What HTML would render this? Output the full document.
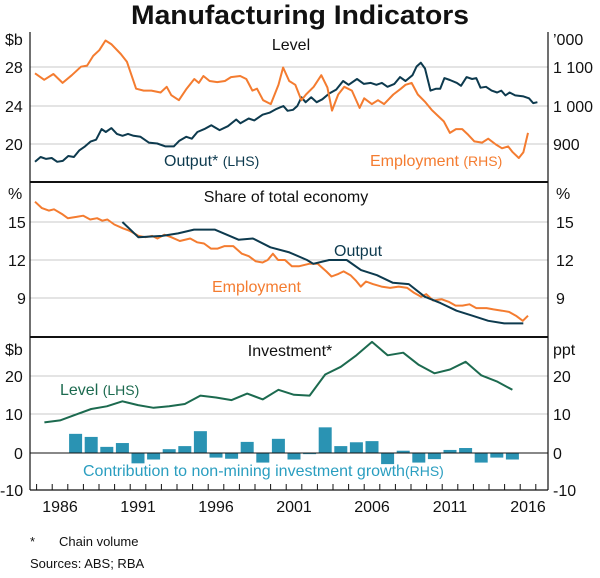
<!DOCTYPE html>
<html><head><meta charset="utf-8"><style>
body{margin:0;background:#fff;width:600px;height:573px;overflow:hidden}
svg{font-family:"Liberation Sans",Arial,sans-serif}
</style></head><body>
<svg id="s" width="600" height="573" viewBox="0 0 600 573" xmlns="http://www.w3.org/2000/svg">
<text x="300" y="24" text-anchor="middle" font-size="27" font-weight="bold" fill="#111" textLength="338" lengthAdjust="spacingAndGlyphs">Manufacturing Indicators</text>
<g stroke="#c8c8c8" stroke-width="1">
<line x1="30" x2="548" y1="67" y2="67"/><line x1="30" x2="548" y1="106" y2="106"/><line x1="30" x2="548" y1="144" y2="144"/>
<line x1="30" x2="548" y1="222" y2="222"/><line x1="30" x2="548" y1="260" y2="260"/><line x1="30" x2="548" y1="298" y2="298"/>
<line x1="30" x2="548" y1="376" y2="376"/><line x1="30" x2="548" y1="414" y2="414"/>
</g>
<g id="d"></g>
<g stroke="#111" fill="none">
<line x1="30" x2="30" y1="32" y2="490" stroke-width="1.2"/>
<line x1="548" x2="548" y1="32" y2="490" stroke-width="1.2"/>
<line x1="30" x2="548" y1="182" y2="182" stroke-width="2"/>
<line x1="30" x2="548" y1="337" y2="337" stroke-width="2"/>
<line x1="30" x2="548" y1="453" y2="453" stroke-width="1"/>
<line x1="30" x2="548" y1="490" y2="490" stroke-width="1.2"/>
</g>
<g font-size="16" fill="#111">
<text x="5" y="45">$b</text><text x="5" y="73">28</text><text x="5" y="112">24</text><text x="5" y="150">20</text>
<text x="553" y="45">’000</text><text x="553" y="73">1 100</text><text x="553" y="112">1 000</text><text x="553" y="150">900</text>
<text x="8" y="199">%</text><text x="8" y="228">15</text><text x="8" y="266">12</text><text x="17" y="304">9</text>
<text x="556" y="199">%</text><text x="556" y="228">15</text><text x="556" y="266">12</text><text x="556" y="304">9</text>
<text x="5" y="355">$b</text><text x="5" y="382">20</text><text x="5" y="420">10</text><text x="14" y="459">0</text><text x="0" y="496">-10</text>
<text x="553" y="355">ppt</text><text x="553" y="382">20</text><text x="553" y="420">10</text><text x="553" y="459">0</text><text x="553" y="496">-10</text>
<text x="291" y="50" text-anchor="middle">Level</text>
<text x="286" y="202" text-anchor="middle">Share of total economy</text>
<text x="290" y="356" text-anchor="middle">Investment*</text>
</g>
<g font-size="16">
<text x="164" y="166" fill="#0d3a4e">Output* <tspan font-size="14">(LHS)</tspan></text>
<text x="370" y="166" fill="#f47c30">Employment <tspan font-size="14">(RHS)</tspan></text>
<text x="334" y="256" fill="#0d3a4e">Output</text>
<text x="212" y="292" fill="#f47c30">Employment</text>
<text x="60" y="395" fill="#1c6a4f">Level <tspan font-size="14">(LHS)</tspan></text>
<text x="83" y="476" fill="#2a9ec0">Contribution to non-mining investment growth<tspan font-size="14">(RHS)</tspan></text>
</g>
<g font-size="16" fill="#111" text-anchor="middle">
<text x="60" y="512">1986</text><text x="138" y="512">1991</text><text x="216" y="512">1996</text><text x="294" y="512">2001</text><text x="372" y="512">2006</text><text x="450" y="512">2011</text><text x="528" y="512">2016</text>
</g>
<g font-size="13" fill="#111"><text x="30" y="546">*</text><text x="59" y="546">Chain volume</text><text x="30" y="568">Sources:  ABS; RBA</text></g>
</svg>
<script>
var X=function(y){return 60+(y-1986)*15.6;};
var g=document.getElementById('d'),h='';
function path(pts,fy,c,w){var s='';pts.forEach(function(p,i){s+=(i?'L':'M')+X(p[0]).toFixed(1)+','+fy(p[1]).toFixed(1);});h+='<path d="'+s+'" fill="none" stroke="'+c+'" stroke-width="'+(w||2)+'" stroke-linejoin="round"/>';}
var tL=function(v){return 106-(v-24)*9.625},tR=function(v){return 106-(v-1000)*0.385};
var mY=function(v){return 260-(v-12)*12.67},bY=function(v){return 453-v*3.83};
var bars=[5,4.2,1.6,2.6,-2.7,-1.7,1,1.8,5.7,-1.2,-1.5,2.9,-2.5,3.7,-1.7,-0.3,6.7,1.8,2.8,3.1,-2.9,0.6,-2.5,-1.6,0.8,1.3,-2.5,-1.2,-1.7];
bars.forEach(function(v,i){var x=X(1987+i)-6.5,y=v>0?bY(v):453;h+='<rect x="'+x+'" y="'+y+'" width="13" height="'+Math.abs(v*3.83)+'" fill="#2a93b3"/>';});
for(var k=1985;k<=2017;k++){var tx=X(k)-7.8;h+='<line x1="'+tx+'" x2="'+tx+'" y1="490" y2="484" stroke="#111"/>';}
path([[1984.4,18.2],[1984.8,18.7],[1985.2,18.5],[1985.6,18.6],[1986,18.2],[1986.4,18.3],[1986.8,18.8],[1987.2,18.7],[1987.6,19.4],[1988,19.8],[1988.4,20.3],[1988.8,20.5],[1989.2,21.6],[1989.5,21.3],[1989.9,21.7],[1990.3,21.1],[1990.7,20.9],[1991.1,21.1],[1991.5,20.9],[1992,20.8],[1992.6,20.2],[1993.2,20.1],[1993.8,19.8],[1994.4,19.8],[1994.8,20.4],[1995.3,20.8],[1995.7,20.6],[1996.1,21.3],[1996.6,21.6],[1997.1,22],[1997.7,21.5],[1998.3,21.9],[1998.9,22.6],[1999.2,22.2],[1999.8,22.7],[2000.2,22.5],[2000.8,23.1],[2001.3,23.3],[2001.8,23.7],[2002.3,24],[2002.6,23.5],[2003,23.6],[2003.3,24],[2003.6,24.9],[2003.9,24.4],[2004.3,24.9],[2004.7,24.4],[2005.1,24.7],[2005.6,25.3],[2006.1,25.7],[2006.6,26.6],[2007,26.2],[2007.6,26.8],[2008.1,26.3],[2008.6,26.4],[2009,26.2],[2009.4,26.4],[2009.8,26],[2010.3,26.3],[2010.7,27],[2011.1,26.6],[2011.6,27.2],[2011.9,28.1],[2012.2,28.5],[2012.5,27.9],[2012.9,25.6],[2013.3,25.8],[2013.6,25.8],[2013.9,26.9],[2014.3,26.7],[2014.8,26.4],[2015.1,26.1],[2015.5,27],[2015.9,26.8],[2016.2,26.9],[2016.5,25.9],[2016.9,26],[2017.3,25.6],[2017.7,25.4],[2018,25.6],[2018.3,25.1],[2018.6,25.4],[2019,25.1],[2019.6,25],[2020,24.8],[2020.3,24.3],[2020.6,24.4]].map(function(p){return [1984.4+(p[0]-1984.4)*(32.2/36.2),p[1]]}),tL,'#0d3a4e');
path([[1984.4,1085],[1985,1068],[1985.6,1083],[1986.2,1060],[1986.8,1080],[1987.4,1102],[1987.8,1105],[1988.2,1130],[1988.6,1145],[1989,1170],[1989.4,1160],[1990,1135],[1990.4,1115],[1990.7,1080],[1991,1045],[1991.5,1040],[1992,1040],[1992.6,1035],[1993,1050],[1993.3,1028],[1993.8,1015],[1994.3,1045],[1994.8,1070],[1995.1,1060],[1995.4,1078],[1995.8,1065],[1996.3,1062],[1996.8,1065],[1997.2,1075],[1997.8,1078],[1998.2,1070],[1998.6,1040],[1998.9,1045],[1999.3,1015],[1999.8,1005],[2000.3,1055],[2000.6,1100],[2001,1065],[2001.4,1055],[2001.8,1015],[2002.1,1030],[2002.6,1050],[2003.1,1080],[2003.5,1048],[2003.8,988],[2004.2,1030],[2004.6,1050],[2005.1,1040],[2005.6,995],[2005.9,1020],[2006.4,1005],[2006.8,1015],[2007.2,1005],[2007.8,1030],[2008.3,1045],[2008.6,1055],[2009,1060],[2009.4,1030],[2009.9,1010],[2010.3,990],[2010.7,975],[2011.1,960],[2011.5,930],[2011.9,940],[2012.3,940],[2012.7,925],[2013.1,908],[2013.6,905],[2014,915],[2014.5,900],[2014.9,890],[2015.3,895],[2015.6,880],[2016,865],[2016.3,880],[2016.6,930]].map(function(p){return [1984.4+(p[0]-1984.4)*(31.6/32.2),p[1]]}),tR,'#f47c30');
path([[1984.4,16.6],[1984.8,16.1],[1985.2,15.9],[1985.5,16],[1986,15.6],[1986.3,15.3],[1986.8,15.4],[1987.2,15.5],[1987.6,15.2],[1988,15.3],[1988.3,15.1],[1988.6,15.2],[1989,14.8],[1989.5,14.5],[1989.9,14.3],[1990.4,13.9],[1990.8,13.8],[1991.2,13.9],[1991.5,13.7],[1991.9,14],[1992.3,13.8],[1992.8,13.5],[1993.4,13.7],[1993.8,13.4],[1994.2,13.3],[1994.6,12.9],[1995,12.9],[1995.4,13.1],[1995.9,13.1],[1996.4,12.5],[1996.8,12.3],[1997.2,11.9],[1997.6,11.8],[1997.9,12],[1998.2,12.5],[1998.5,12],[1998.9,12],[1999.3,11.5],[1999.7,11.5],[2000.3,11.7],[2000.8,11.7],[2001.3,11.1],[2001.6,10.7],[2002,10.9],[2002.3,11.1],[2002.7,10.8],[2003,10.4],[2003.3,9.9],[2003.6,10.3],[2004,10.1],[2004.5,9.9],[2005,9.8],[2005.5,9.9],[2006,9.8],[2006.4,9.4],[2006.8,9.1],[2007.1,9.3],[2007.5,8.8],[2008,8.9],[2008.4,8.7],[2008.8,8.4],[2009.2,8.4],[2009.6,8.5],[2010,8.2],[2010.6,8.2],[2011,8.1],[2011.5,8],[2011.9,7.9],[2012.3,7.6],[2012.7,7.2],[2013,7.6]].map(function(p){return [1984.4+(p[0]-1984.4)*(31.6/28.6),p[1]]}),mY,'#f47c30');
path([[1990,15],[1991,13.8],[1992.5,13.9],[1993.5,14.1],[1994.5,14.4],[1995.8,14.4],[1997.3,13.6],[1998.2,13.7],[1999.3,13],[2000.5,12.6],[2001.6,12],[2002,11.7],[2003,12],[2004.1,12],[2005,11.2],[2006,10.8],[2007,10.2],[2008,10.1],[2009,9.1],[2010,8.6],[2011,8],[2012,7.6],[2013,7.2],[2014,7],[2015.2,7]].map(function(p){return [1990+(p[0]-1990)*(25.7/25.2),p[1]]}),mY,'#0d3a4e');
var lv=[8,8.5,10,11.5,12.2,13.5,12.5,11.8,12.2,12.8,15,14.5,13.8,15.5,14,16.5,15.2,15,20.5,22.5,25.5,29,25.5,26.2,23,20.8,21.8,23.8,20.3,18.7,16.5];
path(lv.map(function(v,i){return [1985+i,v]}),bY,'#1c6a4f');
g.innerHTML=h;
</script>
</body></html>
